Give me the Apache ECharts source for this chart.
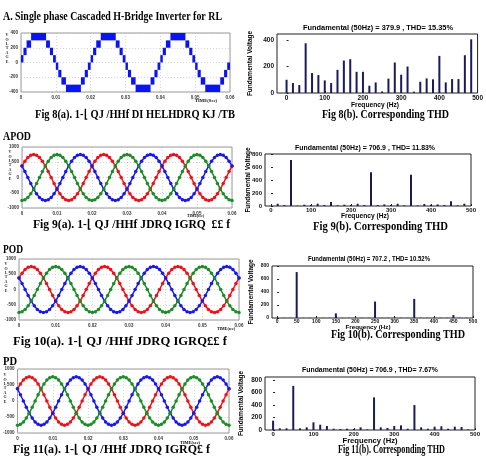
<!DOCTYPE html>
<html>
<head>
<meta charset="utf-8">
<script src="https://cdn.jsdelivr.net/npm/echarts@6/dist/echarts.min.js"></script>
<style>html,body{margin:0;background:#fff}#chart{width:486px;height:460px}</style>
</head>
<body>
<div id="chart"></div>
<script>
// --- Fig 8(a): staircase bands over one 50 Hz cycle (s, V)
const stairStart = [0, 0.0007, 0.0016, 0.0029, 0.0072, 0.0083, 0.0092, 0.0100, 0.0107, 0.0116, 0.0129, 0.0172, 0.0183, 0.0192]
const stairEnd   = [0.0007, 0.0016, 0.0029, 0.0072, 0.0083, 0.0092, 0.0100, 0.0107, 0.0116, 0.0129, 0.0172, 0.0183, 0.0192, 0.0200]
const stairLow   = [0, 100, 200, 300, 200, 100, 0, -100, -200, -300, -400, -300, -200, -100]
const stairHigh  = [100, 200, 300, 400, 300, 200, 100, 0, -100, -200, -300, -200, -100, 0]
const cycleStarts = [0, 0.02, 0.04]

// --- three phase output, one cycle of level samples (24 per cycle)
const phaseLevels = [0, 195, 380, 535, 655, 730, 755, 730, 655, 535, 380, 195,
                     0, -195, -380, -535, -655, -730, -755, -730, -655, -535, -380, -195]
const sampleStep = 0.02 / 24
const phaseShift = { red: 2, blue: 10, green: 18 }

// --- harmonic spectra
const harmFreq = [0, 16.7, 33.3, 50, 66.7, 83.3, 100, 116.7, 133.3, 150, 166.7, 183.3, 200, 216.7, 233.3,
                  250, 266.7, 283.3, 300, 316.7, 333.3, 350, 366.7, 383.3, 400, 416.7, 433.3, 450, 466.7, 483.3]
const thd8 = [100, 75, 60, 375, 150, 135, 95, 75, 175, 245, 255, 160, 160, 55, 80,
              12, 108, 230, 138, 200, 10, 85, 110, 103, 280, 80, 105, 105, 285, 405]
const thd9 = [0, 35, 15, 707, 5, 20, 15, 36, 15, 62, 10, 20, 15, 35, 15,
              520, 15, 25, 15, 35, 10, 480, 10, 30, 20, 25, 15, 75, 10, 35]
const thd10 = [3, 3, 3, 707, 3, 3, 3, 3, 3, 71, 3, 3, 3, 3, 3,
               253, 3, 3, 3, 3, 3, 294, 3, 3, 3, 3, 3, 45, 3, 3]
const thd11 = [150, 27, 27, 707, 27, 43, 123, 85, 64, 21, 16, 21, 16, 43, 10,
               523, 43, 32, 64, 75, 21, 400, 43, 21, 53, 59, 21, 53, 48, 10]

const freqTicks = [0, 100, 200, 300, 400, 500]
const freqTicks50 = [0, 50, 100, 150, 200, 250, 300, 350, 400, 450, 500]
const voltTicks8 = [0, 200, 400]
const voltTicks = [0, 200, 400, 600, 800]

const chart = echarts.init(document.getElementById('chart'))
const SERIF = 'Liberation Serif'
const SANS = 'Liberation Sans'
const ctx = document.createElement('canvas').getContext('2d')

function fitText(text, x, y, w, font, align) {
  ctx.font = font
  const s = w / ctx.measureText(text).width
  return { type: 'text', x: x, y: y, scaleX: s,
    style: { text: text, font: font, fill: '#000', textAlign: align || 'left', textVerticalAlign: 'middle' } }
}
function stacked(x, y) {
  return { type: 'text', x: x, y: y,
    style: { text: 'V\nO\nL\nT\nA\nG\nE', font: 'bold 4px ' + SERIF, lineHeight: 4.4, fill: '#222',
             textAlign: 'center', textVerticalAlign: 'top' } }
}

const grids = [
  { left: 21, top: 33, width: 209, height: 59 },   // 8a
  { left: 277, top: 34, width: 203, height: 59 },  // 8b
  { left: 22, top: 147, width: 210, height: 61 },  // 9a
  { left: 265, top: 154, width: 206, height: 52 }, // 9b
  { left: 19, top: 259, width: 220, height: 61 },  // 10a
  { left: 272, top: 266, width: 201, height: 52 }, // 10b
  { left: 17, top: 369, width: 212, height: 64 },  // 11a
  { left: 265, top: 377, width: 210, height: 53 }  // 11b
].map((g, i) => Object.assign({ show: true, borderWidth: 1, borderColor: i % 2 ? '#222' : '#999', containLabel: false }, g))

function waveX(gi) {
  return { type: 'value', gridIndex: gi, min: 0, max: 0.06, interval: 0.01,
    axisLine: { show: false }, axisTick: { show: false },
    splitLine: { show: true, lineStyle: { color: '#bbb', type: [1, 2], width: 0.6 } },
    axisLabel: { fontSize: 4.5, fontWeight: 'bold', fontFamily: SANS, color: '#333', margin: 3,
                 formatter: v => v === 0 ? '0' : v.toFixed(2) } }
}
function waveY(gi, lim, step) {
  return { type: 'value', gridIndex: gi, min: -lim, max: lim, interval: step,
    axisLine: { show: false }, axisTick: { show: false },
    splitLine: { show: true, lineStyle: { color: '#bbb', type: [1, 2], width: 0.6 } },
    axisLabel: { fontSize: 4.5, fontWeight: 'bold', fontFamily: SANS, color: '#333', margin: 3,
                 formatter: v => String(v) } }
}
function thdX(gi, min, ticks, size) {
  return { type: 'value', gridIndex: gi, min: min, max: 500,
    axisLine: { show: false }, splitLine: { show: false },
    axisTick: { show: true, inside: true, length: 2, customValues: ticks, lineStyle: { color: '#222' } },
    axisLabel: { fontSize: size, fontWeight: 'bold', fontFamily: SANS, color: '#111', margin: 1.5, customValues: ticks } }
}
// "Fundamental Voltage" is drawn as the axis name
function thdY(gi, max, ticks, gap) {
  return { type: 'value', gridIndex: gi, min: 0, max: max,
    name: 'Fundamental Voltage', nameLocation: 'middle', nameRotate: 90, nameGap: gap,
    nameMoveOverlap: false,
    nameTextStyle: { fontSize: 6.5, fontWeight: 'bold', fontFamily: SANS, color: '#000' },
    axisLine: { show: false }, splitLine: { show: false },
    axisTick: { show: true, inside: true, length: 2, customValues: ticks, lineStyle: { color: '#222' } },
    axisLabel: { show: false } }
}

const stairData = []
cycleStarts.forEach(c => stairStart.forEach((s, i) => stairData.push([c + s, c + stairEnd[i], stairLow[i], stairHigh[i]])))

function phaseData(shift) {
  const pts = []
  cycleStarts.forEach(c => phaseLevels.forEach((_, i) => pts.push([c + i * sampleStep, phaseLevels[(i + shift) % 24]])))
  pts.push([0.06, phaseLevels[shift]])
  return pts
}
function phaseSeries(gi) {
  return [['red', '#e8141b'], ['blue', '#1a1ae6'], ['green', '#1f8c28']].map(([k, col]) => ({
    type: 'line', xAxisIndex: gi, yAxisIndex: gi, data: phaseData(phaseShift[k]),
    symbol: 'circle', symbolSize: 3.5, showSymbol: true, itemStyle: { color: col },
    lineStyle: { color: col, width: 1.5 }, clip: true, silent: true
  }))
}
function barSeries(gi, vals) {
  return { type: 'bar', xAxisIndex: gi, yAxisIndex: gi, barWidth: 2,
    data: harmFreq.map((f, i) => [f, vals[i]]), itemStyle: { color: '#1b1b5c' }, silent: true }
}

chart.setOption({
  animation: false,
  grid: grids,
  xAxis: [waveX(0), thdX(1, -25, freqTicks, 6.5), waveX(2), thdX(3, -15, freqTicks, 6),
          waveX(4), thdX(5, -13, freqTicks50, 5), waveX(6), thdX(7, -20, freqTicks, 6)],
  yAxis: [waveY(0, 400, 200), thdY(1, 445, voltTicks8, 23), waveY(2, 1000, 500), thdY(3, 800, voltTicks, 13),
          waveY(4, 1000, 500), thdY(5, 800, voltTicks, 17), waveY(6, 1000, 500), thdY(7, 850, voltTicks, 20)],
  series: [
    {
      type: 'custom', xAxisIndex: 0, yAxisIndex: 0, data: stairData, clip: true, silent: true,
      encode: { x: [0, 1], y: [2, 3] },
      renderItem: (params, api) => {
        const p0 = api.coord([api.value(0), api.value(3)])
        const p1 = api.coord([api.value(1), api.value(2)])
        return { type: 'rect', shape: { x: p0[0], y: p0[1], width: p1[0] - p0[0], height: p1[1] - p0[1] },
                 style: { fill: '#0a14f0' } }
      }
    },
    barSeries(1, thd8),
    ...phaseSeries(2),
    barSeries(3, thd9),
    ...phaseSeries(4),
    barSeries(5, thd10),
    ...phaseSeries(6),
    barSeries(7, thd11)
  ]
})

// y tick labels of the spectra, placed through the axes
const yLabels = []
;[[1, voltTicks8, 6.5], [3, voltTicks, 6], [5, voltTicks, 5], [7, voltTicks, 6.5]].forEach(([gi, ticks, size]) => {
  const left = grids[gi].left
  ticks.forEach(v => {
    const p = chart.convertToPixel({ gridIndex: gi }, [0, v])
    yLabels.push({ type: 'text', x: left - 3, y: p[1],
      style: { text: String(v), font: 'bold ' + size + 'px ' + SANS, fill: '#111', textAlign: 'right', textVerticalAlign: 'middle' } })
  })
})

chart.setOption({
  graphic: { elements: [
    ...yLabels,
    fitText('A. Single phase Cascaded H-Bridge Inverter for RL', 3, 17, 219, 'bold 12px ' + SERIF),
    fitText('APOD', 3, 137, 28, 'bold 12px ' + SERIF),
    fitText('POD', 3, 250, 20, 'bold 12px ' + SERIF),
    fitText('PD', 3, 362, 14, 'bold 12px ' + SERIF),

    fitText('Fig 8(a). 1-\u230a QJ /HHf DI HELHDRQ KJ /TB', 35, 115, 200, 'bold 12px ' + SERIF),
    fitText('Fig 8(b). Corresponding THD', 322, 115, 127, 'bold 12px ' + SERIF),
    fitText('Fig 9(a). 1-\u230a QJ /HHf JDRQ IGRQ  \u00a3\u00a3 f', 33, 225, 197, 'bold 12px ' + SERIF),
    fitText('Fig 9(b). Corresponding THD', 313, 227, 135, 'bold 12px ' + SERIF),
    fitText('Fig 10(a). 1-\u230a QJ /HHf JDRQ IGRQ\u00a3\u00a3 f', 13, 342, 214, 'bold 12px ' + SERIF),
    fitText('Fig 10(b). Corresponding THD', 331, 335, 134, 'bold 12px ' + SERIF),
    fitText('Fig 11(a). 1-\u230a QJ /HHf JDRQ IGRQ\u00a3 f', 13, 450, 197, 'bold 12px ' + SERIF),
    fitText('Fig 11(b). Corresponding THD', 338, 450, 107, 'bold 12px ' + SERIF),

    fitText('Fundamental (50Hz) = 379.9 , THD= 15.35%', 378, 28, 150, 'bold 7px ' + SANS, 'center'),
    fitText('Fundamental (50Hz) = 706.9 , THD= 11.83%', 365, 148, 140, 'bold 7px ' + SANS, 'center'),
    fitText('Fundamental (50Hz) = 707.2 , THD= 10.52%', 369, 259, 122, 'bold 7px ' + SANS, 'center'),
    fitText('Fundamental (50Hz) = 706.9 , THD= 7.67%', 370, 370, 136, 'bold 7px ' + SANS, 'center'),

    fitText('Frequency (Hz)', 375, 105, 48, 'bold 7px ' + SANS, 'center'),
    fitText('Frequency (Hz)', 365, 216, 48, 'bold 7px ' + SANS, 'center'),
    fitText('Frequency (Hz)', 368, 327, 45, 'bold 6px ' + SANS, 'center'),
    fitText('Frequency (Hz)', 370, 441, 55, 'bold 7px ' + SANS, 'center'),

    stacked(7, 33), stacked(10, 150), stacked(6, 262), stacked(5, 373),

    fitText('TIME(Sec)', 195, 101, 22, 'bold 5px ' + SERIF),
    fitText('TIME(sec)', 187, 216, 17, 'bold 5px ' + SERIF),
    fitText('TIME(sec)', 217, 329, 18, 'bold 5px ' + SERIF),
    fitText('TIME(sec)', 180, 443, 20, 'bold 5px ' + SERIF)
  ] }
})
</script>
</body>
</html>
